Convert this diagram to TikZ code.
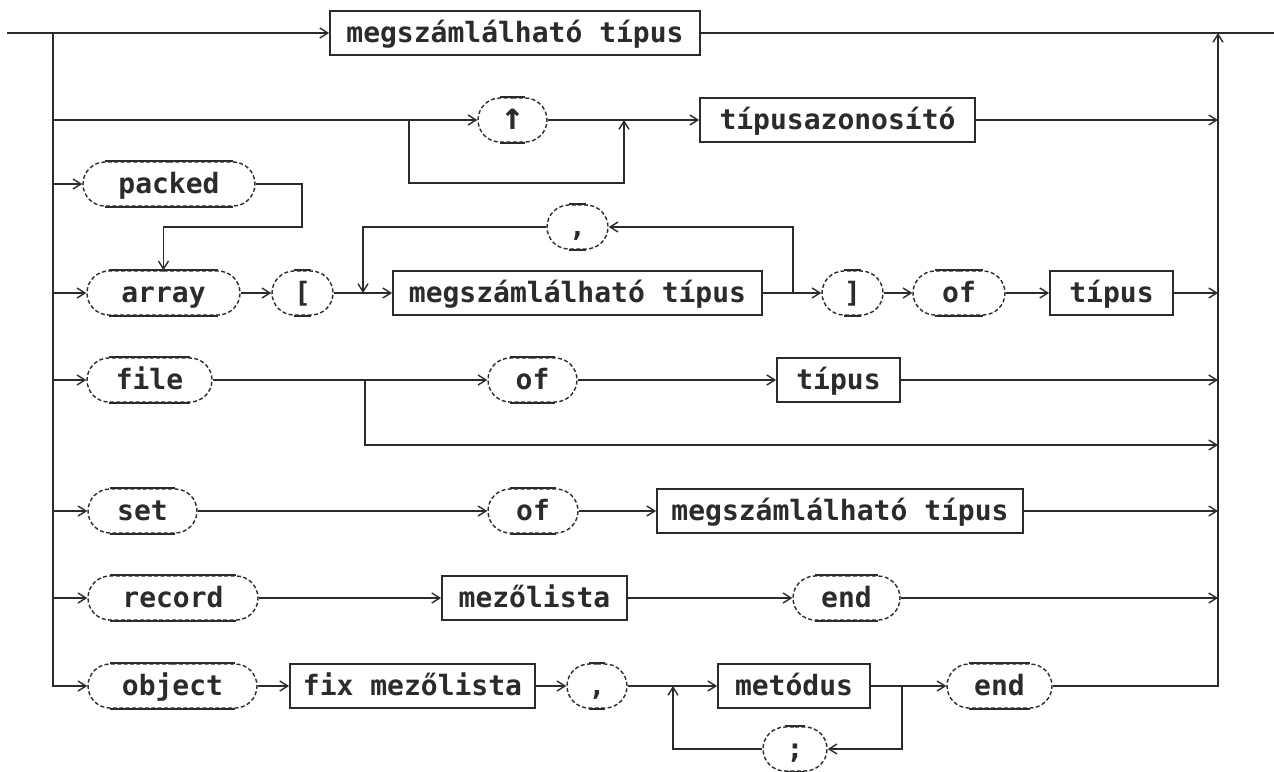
\documentclass[tikz,border=0pt]{standalone}
\usepackage{fontspec}
\newfontfamily\diagfont{DejaVu Sans Mono}
\usetikzlibrary{arrows.meta,shapes.misc}
\definecolor{ink}{HTML}{2B2B2B}
\tikzset{
  conn/.style={draw=ink, line width=0.9pt},
  arr/.style={conn, -{Straight Barb[length=4pt,width=5pt,line width=0.7pt]}},
  label text/.style={text=ink, text height=11pt, text depth=2pt,
    font=\diagfont\bfseries\fontsize{14}{16}\selectfont},
  box/.style={label text, draw=ink, line width=0.9pt, rectangle,
    minimum height=22pt, inner sep=0pt},
  flat/.style={draw=ink, line width=0.9pt, solid},
  term/.style={label text, rounded rectangle, draw=ink, line width=0.7pt,
    dash pattern=on 2pt off 1.2pt, minimum height=22pt, inner sep=0pt,
    append after command={
      (\tikzlastnode.north west) edge[flat] (\tikzlastnode.north east)
      (\tikzlastnode.south west) edge[flat] (\tikzlastnode.south east)}}
}
\begin{document}
\begin{tikzpicture}[x=0.5pt, y=-0.5pt]
\useasboundingbox[fill=white] (0,0) rectangle (1274,771);

% bus entry and exit points
\coordinate (in)  at (7,33);
\coordinate (out) at (1274,33);
\coordinate (L0)  at (53,33);
\coordinate (R0)  at (1218,33);

% row 0
\node[box, minimum width=185pt] (A0) at (515,33) {megszámlálható típus};

% row 1: pointer type
\node[term, minimum width=34.5pt] (up) at (512.5,120) {\fontsize{19}{20}\selectfont↑};
\node[box, minimum width=137.5pt] (tid) at (837.5,120) {típusazonosító};
\coordinate (b1a) at (409,120);
\coordinate (b1c) at (409,183);
\coordinate (b1b) at (624,120);

% row 2/3: packed array
\node[term, minimum width=86pt] (packed) at (169,184) {packed};
\coordinate (k1) at (302,227);
\node[term, minimum width=76.5pt] (array) at (163.5,293) {array};
\node[term, minimum width=30.5pt] (lbr) at (302.5,293) {[};
\node[box, minimum width=184.5pt] (mt2) at (577.5,293) {megszámlálható típus};
\node[term, minimum width=30.5pt] (comma) at (577.5,227) {,};
\node[term, minimum width=30.5pt] (rbr) at (852.5,293) {]};
\node[term, minimum width=46pt] (of1) at (959,293) {of};
\node[box, minimum width=61.5pt] (tip1) at (1111.5,293) {típus};
\coordinate (j3a) at (363,293);
\coordinate (j3b) at (793,293);

% row 4: file
\node[term, minimum width=62.5pt] (file) at (149.5,380) {file};
\node[term, minimum width=44.5pt] (of2) at (532.5,380) {of};
\node[box, minimum width=61.5pt] (tip2) at (838.5,380) {típus};
\coordinate (j4) at (365,380);
\coordinate (b4) at (1218,445);

% row 5: set
\node[term, minimum width=54.5pt] (set) at (142.5,511) {set};
\node[term, minimum width=45pt] (of3) at (533,511) {of};
\node[box, minimum width=183pt] (mt3) at (840,511) {megszámlálható típus};

% row 6: record
\node[term, minimum width=85pt] (record) at (173,598) {record};
\node[box, minimum width=92.5pt] (mezo) at (534.5,598) {mezőlista};
\node[term, minimum width=53.5pt] (end1) at (846.5,598) {end};

% row 7: object
\node[term, minimum width=84.5pt] (object) at (172.5,686) {object};
\node[box, minimum width=122.5pt] (fix) at (412.5,686) {fix mezőlista};
\node[term, minimum width=30pt] (comma2) at (597,686) {,};
\node[box, minimum width=76pt] (metod) at (794,686) {metódus};
\node[term, minimum width=32pt] (semi) at (795,749) {;};
\node[term, minimum width=52.5pt] (end2) at (999.5,686) {end};
\coordinate (j7a) at (673,686);
\coordinate (j7b) at (902,686);

% top line and the two buses
\draw[arr] (in) -- (A0.west);
\draw[conn] (A0.east) -- (out);
\draw[arr] (L0) |- (object.west);
\draw[arr] (end2.east) -| (R0);

% row 1
\draw[arr] (L0 |- up.west) -- (up.west);
\draw[arr] (b1a) -- (b1c) -| (b1b);
\draw[arr] (up.east) -- (tid.west);
\draw[arr] (tid.east) -- (R0 |- tid.east);

% row 2
\draw[arr] (L0 |- packed.west) -- (packed.west);
\draw[arr] (packed.east) -| (k1) -| (array.north);

% row 3
\draw[arr] (L0 |- array.west) -- (array.west);
\draw[arr] (array.east) -- (lbr.west);
\draw[arr] (lbr.east) -- (mt2.west);
\draw[arr] (j3b) |- (comma.east);
\draw[arr] (comma.west) -| (j3a);
\draw[arr] (mt2.east) -- (rbr.west);
\draw[arr] (rbr.east) -- (of1.west);
\draw[arr] (of1.east) -- (tip1.west);
\draw[arr] (tip1.east) -- (R0 |- tip1.east);

% row 4
\draw[arr] (L0 |- file.west) -- (file.west);
\draw[arr] (file.east) -- (of2.west);
\draw[arr] (of2.east) -- (tip2.west);
\draw[arr] (tip2.east) -- (R0 |- tip2.east);
\draw[arr] (j4) |- (b4);

% row 5
\draw[arr] (L0 |- set.west) -- (set.west);
\draw[arr] (set.east) -- (of3.west);
\draw[arr] (of3.east) -- (mt3.west);
\draw[arr] (mt3.east) -- (R0 |- mt3.east);

% row 6
\draw[arr] (L0 |- record.west) -- (record.west);
\draw[arr] (record.east) -- (mezo.west);
\draw[arr] (mezo.east) -- (end1.west);
\draw[arr] (end1.east) -- (R0 |- end1.east);

% row 7
\draw[arr] (object.east) -- (fix.west);
\draw[arr] (fix.east) -- (comma2.west);
\draw[arr] (comma2.east) -- (metod.west);
\draw[arr] (j7b) |- (semi.east);
\draw[arr] (semi.west) -| (j7a);
\draw[arr] (metod.east) -- (end2.west);
\end{tikzpicture}
\end{document}
